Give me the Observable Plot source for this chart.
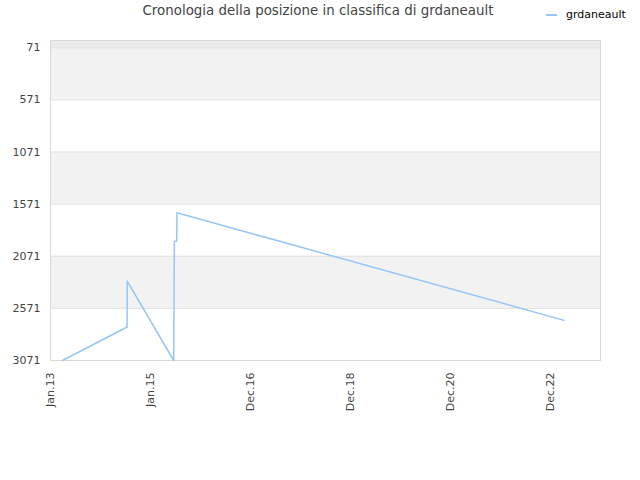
<!DOCTYPE html>
<html>
<head>
<meta charset="utf-8">
<script src="https://cdn.jsdelivr.net/npm/d3@7"></script>
<script src="https://cdn.jsdelivr.net/npm/@observablehq/plot@0.6"></script>
<style>
  body { margin: 0; background: #fff; font-family: "DejaVu Sans", sans-serif; }
  #wrap { width: 640px; position: relative; }
  #head { height: 40px; position: relative; }
  #title { position: absolute; left: 0; width: 636px; top: 3px; text-align: center; font-size: 13.4px; color: #444; }
  #legend { position: absolute; left: 546px; top: 8px; font-size: 11px; color: #000; display: flex; align-items: center; }
  #legend .sw { width: 11px; height: 2px; background: #94c6f7; margin-right: 9px; }
</style>
</head>
<body>
<div id="wrap">
  <div id="head">
    <div id="title">Cronologia della posizione in classifica di grdaneault</div>
    <div id="legend"><span class="sw"></span><span>grdaneault</span></div>
  </div>
  <div id="chart"></div>
</div>
<script>
const seriesName = "grdaneault";
const dates = ["2013-03-29","2014-07-14","2014-07-15","2015-06-19","2015-06-24","2015-07-11","2015-07-13","2023-04-07"];
const ranks = [3071, 2750, 2309, 3071, 1926, 1926, 1653, 2686];

const yTicks = [71, 571, 1071, 1571, 2071, 2571, 3071];
const xTickDates = ["2013-01-01","2015-01-01","2016-12-31","2018-12-31","2020-12-30","2022-12-30"];
const xTickLabels = ["Jan.13","Jan.15","Dec.16","Dec.18","Dec.20","Dec.22"];

const bandLo = [1, 71, 1071, 2071];
const bandHi = [71, 571, 1571, 2571];
const bandFill = ["#ebebeb", "#f2f2f2", "#f2f2f2", "#f2f2f2"];

const data = dates.map((d, i) => ({date: new Date(d + "T00:00:00Z"), rank: ranks[i]}));
const bands = bandLo.map((lo, i) => ({lo, hi: bandHi[i], fill: bandFill[i]}));
const xTicks = xTickDates.map(d => new Date(d + "T00:00:00Z"));

const chart = Plot.plot({
  width: 640,
  height: 440,
  marginTop: 0,
  marginLeft: 50,
  marginRight: 40,
  marginBottom: 120,
  style: {fontFamily: "DejaVu Sans, sans-serif", fontSize: "11px", color: "#444", background: "#fff"},
  x: {type: "utc", domain: [new Date("2013-01-01T00:00:00Z"), new Date("2023-12-29T00:00:00Z")]},
  y: {domain: [1, 3071], reverse: true},
  marks: [
    Plot.rect(bands, {y1: "lo", y2: "hi", fill: "fill"}),
    Plot.ruleY(yTicks, {stroke: "#e0e0e0", strokeWidth: 1}),
    Plot.frame({stroke: "#d9d9d9"}),
    Plot.axisY({ticks: yTicks, tickSize: 0, tickPadding: 10, label: null, tickFormat: d3.format("d")}),
    Plot.axisX({ticks: xTicks, tickSize: 0, tickPadding: 12, tickRotate: -90, label: null,
      tickFormat: (d) => xTickLabels[xTicks.findIndex(t => +t === +d)]}),
    Plot.line(data, {x: "date", y: "rank", stroke: "#94c6f7", strokeWidth: 1.5})
  ]
});
document.getElementById("chart").appendChild(chart);
</script>
</body>
</html>
